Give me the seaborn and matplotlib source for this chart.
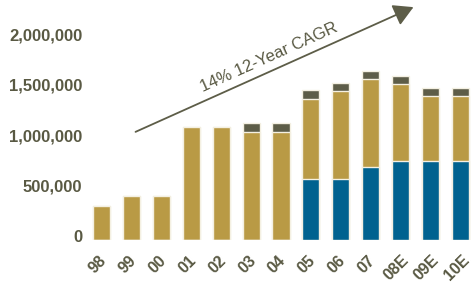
import matplotlib
matplotlib.use("Agg")
import matplotlib.pyplot as plt
import matplotlib.transforms as mtransforms
import seaborn as sns
import pandas as pd
import numpy as np

years = ["98", "99", "00", "01", "02", "03", "04", "05", "06", "07", "08E", "09E", "10E"]
blue_vals = [0, 0, 0, 0, 0, 0, 0, 600000, 600000, 720000, 780000, 780000, 780000]
gold_vals = [340000, 435000, 435000, 1120000, 1120000, 1070000, 1070000, 800000, 875000, 870000, 760000, 645000, 645000]
dark_vals = [0, 0, 0, 0, 0, 85000, 85000, 85000, 80000, 82000, 85000, 82000, 82000]
y_ticks = [0, 500000, 1000000, 1500000, 2000000]
annotation = "14% 12-Year CAGR"

GOLD = "#B99A45"
BLUE = "#00628F"
DARK = "#5D5D48"
TEXT = "#595943"

df = pd.DataFrame({"year": years, "blue": blue_vals, "gold": gold_vals, "dark": dark_vals})
df["t_gold"] = df["blue"] + df["gold"]
df["t_dark"] = df["t_gold"] + df["dark"]

sns.set_style("white")
fig = plt.figure(figsize=(4.71, 2.83), dpi=100)
ax = fig.add_axes([86.5 / 471, 43 / 283, (471 - 86.5) / 471, 240 / 283])

common = dict(x="year", order=years, width=0.57, edgecolor="#F4F0E2", linewidth=1.0, ax=ax)
sns.barplot(data=df, y="t_dark", color=DARK, saturation=1, **common)
sns.barplot(data=df, y="t_gold", color=GOLD, saturation=1, **common)
sns.barplot(data=df, y="blue", color=BLUE, saturation=1, **common)

ax.set_xlim(-0.5, 12.35)
ax.set_ylim(0, 2376000)
ax.set_yticks(y_ticks)
ax.set_yticklabels([f"{v:,}" for v in y_ticks])
ax.set_xlabel("")
ax.set_ylabel("")
for s in ax.spines.values():
    s.set_visible(False)
ax.tick_params(axis="both", length=0, colors=TEXT)
ax.tick_params(axis="y", pad=3)
ax.tick_params(axis="x", pad=9)
up = mtransforms.ScaledTranslation(0, 3.5 / 100, fig.dpi_scale_trans)
left = mtransforms.ScaledTranslation(-4 / 100, 0, fig.dpi_scale_trans)
for lab in ax.get_yticklabels():
    lab.set_fontfamily(["Liberation Sans", "DejaVu Sans"])
    lab.set_fontweight("bold")
    lab.set_fontsize(12)
    lab.set_color(TEXT)
    lab.set_transform(lab.get_transform() + up)
for lab in ax.get_xticklabels():
    lab.set_fontfamily(["Liberation Sans", "DejaVu Sans"])
    lab.set_fontweight("bold")
    lab.set_fontsize(11.5)
    lab.set_color(TEXT)
    lab.set_rotation(45)
    lab.set_ha("center")
    lab.set_va("top")
    lab.set_transform(lab.get_transform() + left)
ax.grid(False)

def fp(x, y):
    return (x / 471, 1 - y / 283)

fig.patches.append(matplotlib.patches.FancyArrowPatch(
    fp(133, 133), fp(416, 6), transform=fig.transFigure,
    arrowstyle="-|>,head_length=8,head_width=4.5", mutation_scale=1.5,
    color=DARK, linewidth=1.3))
fig.text(*fp(269, 57), annotation, rotation=24.2, rotation_mode="anchor",
         ha="center", va="center", fontsize=12, color=TEXT,
         family=["Liberation Sans Narrow", "Liberation Sans", "DejaVu Sans"])

fig.savefig("out.png", dpi=100)
